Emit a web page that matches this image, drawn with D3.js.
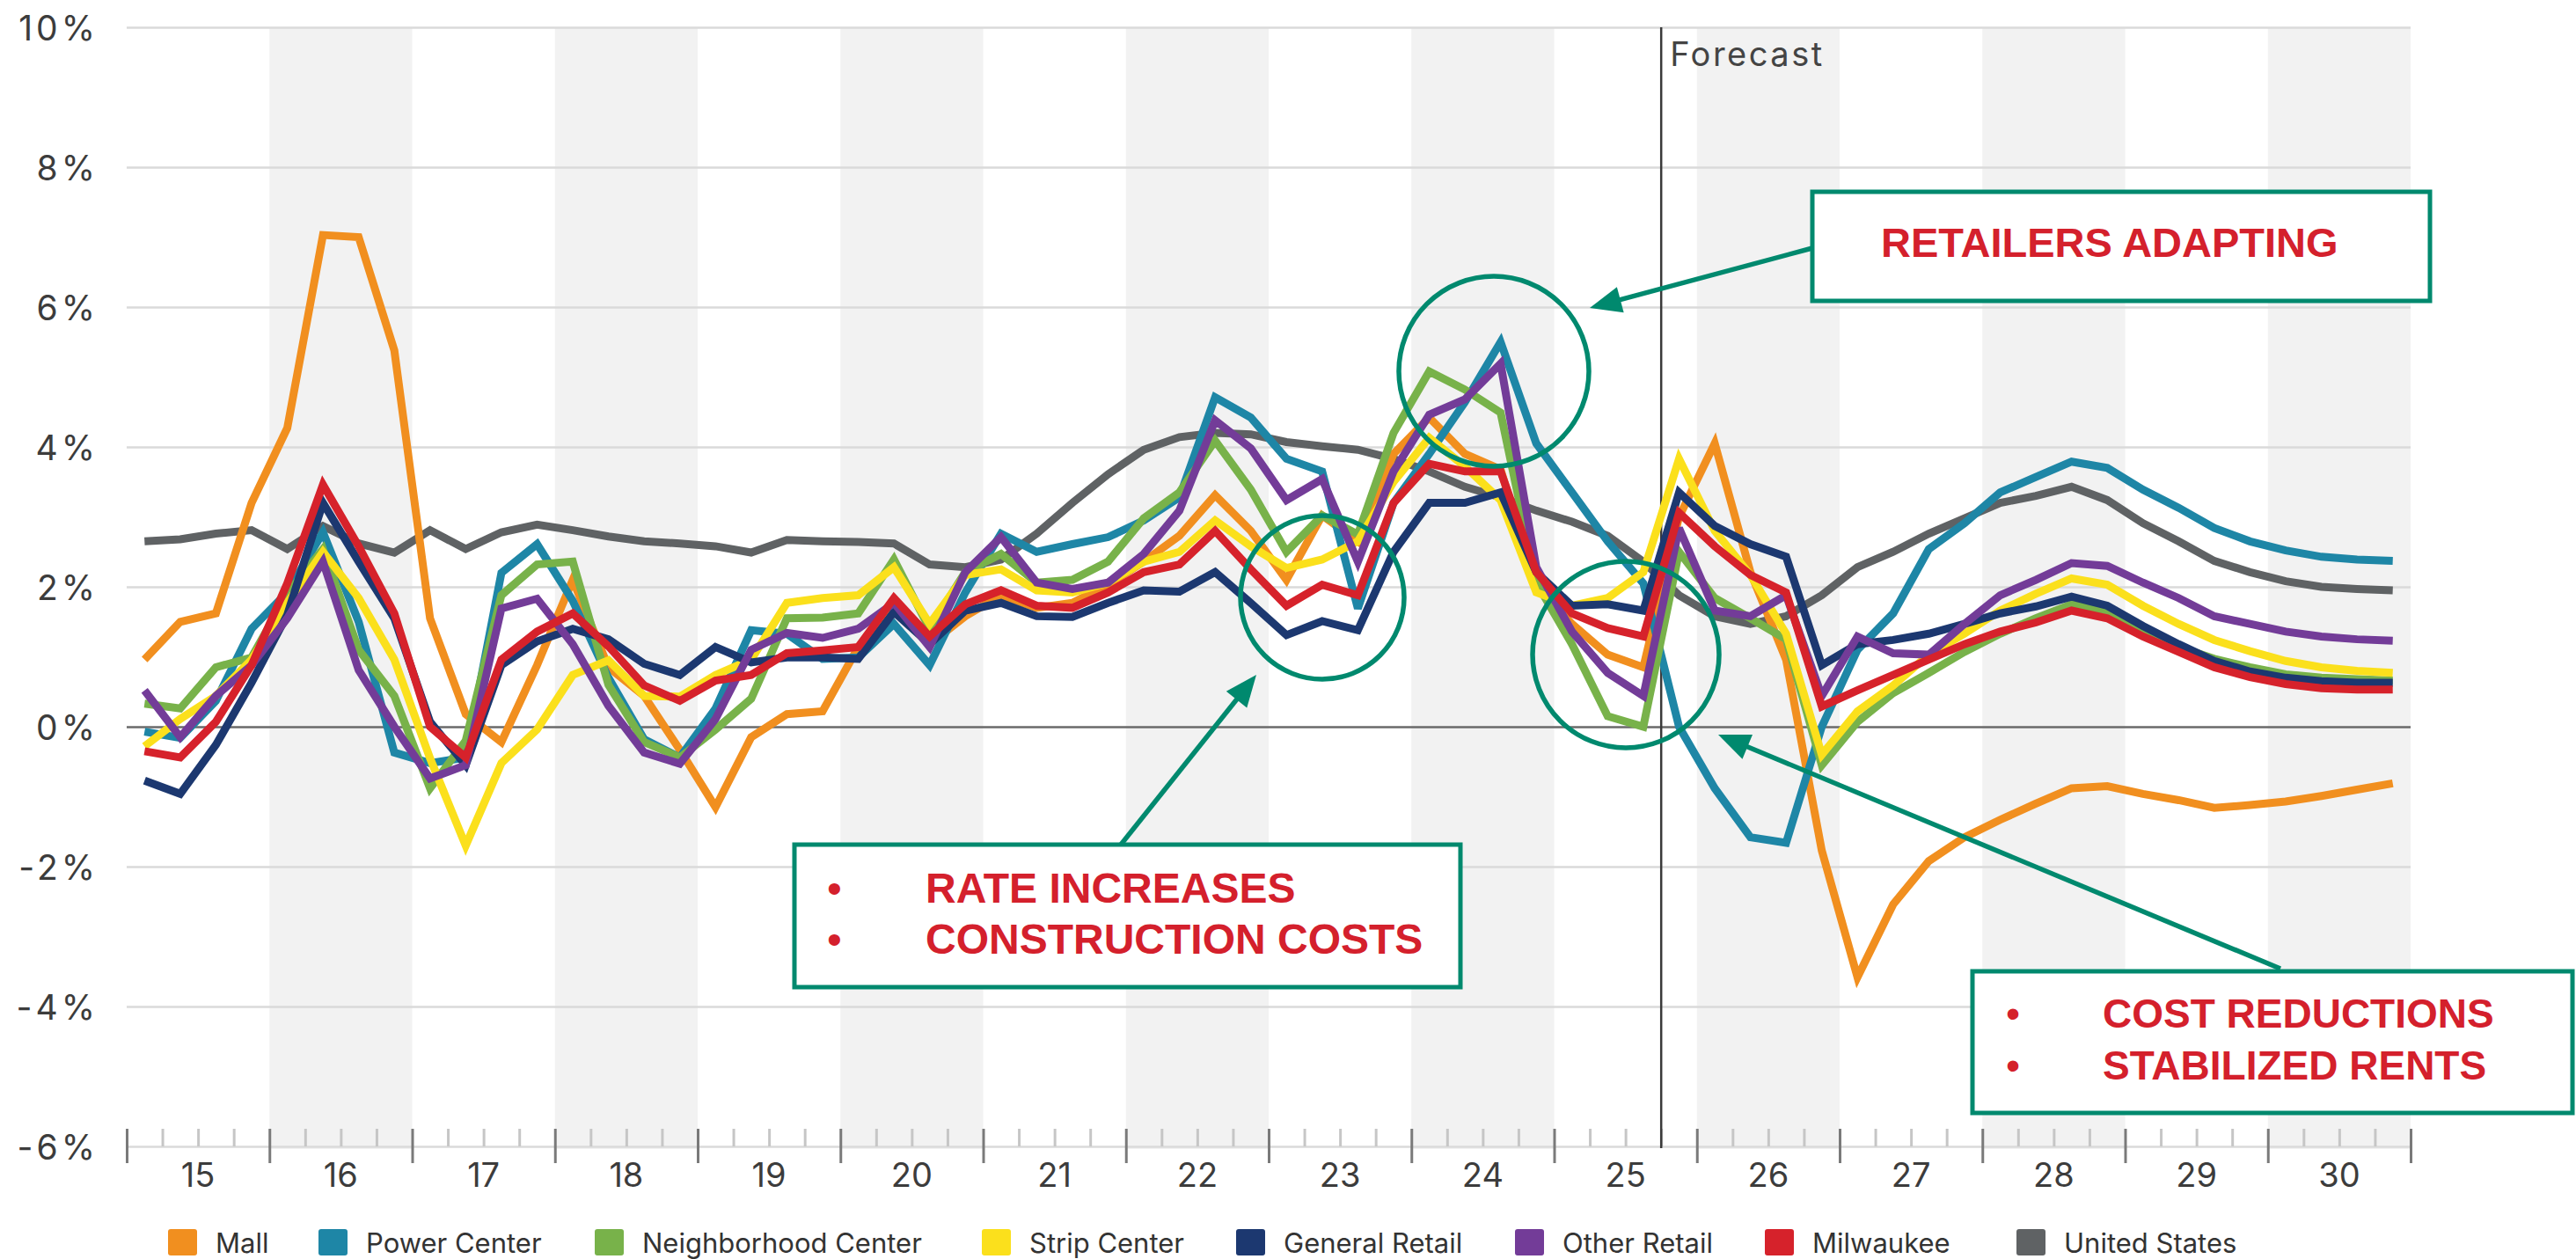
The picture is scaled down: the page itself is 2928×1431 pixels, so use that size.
<!DOCTYPE html>
<html>
<head>
<meta charset="utf-8">
<script src="https://cdn.jsdelivr.net/npm/d3@7"></script>
<style>
  html, body { margin: 0; padding: 0; background: #ffffff; }
  svg { display: block; }
</style>
</head>
<body>
<svg id="chart" width="2928" height="1431"></svg>
<script>
// ---- data -------------------------------------------------------------
const years = [15, 16, 17, 18, 19, 20, 21, 22, 23, 24, 25, 26, 27, 28, 29, 30];
const yTicks = [-6, -4, -2, 0, 2, 4, 6, 8, 10];

const seriesNames = ["Mall", "Power Center", "Neighborhood Center", "Strip Center",
                     "General Retail", "Other Retail", "Milwaukee", "United States"];
const seriesColors = ["#f18f1f", "#1e86a6", "#78b24a", "#fbe01c",
                      "#1c3870", "#733c98", "#d6222b", "#5f6264"];

// quarterly rent growth, % year over year (2015 Q1 .. 2030 Q4)
const mall = [0.96, 1.50, 1.62, 3.20, 4.27, 7.03, 7.00, 5.38, 1.55, 0.18, -0.22, 0.88,
  2.10, 0.85, 0.44, -0.33, -1.15, -0.15, 0.18, 0.22, 1.14, 1.70, 1.18, 1.58,
  1.88, 1.70, 1.77, 2.03, 2.36, 2.73, 3.31, 2.80, 2.10, 3.02, 2.65, 3.90,
  4.42, 3.90, 3.68, 1.99, 1.47, 1.03, 0.85, 3.00, 4.05, 2.21, 0.96, -1.77,
  -3.58, -2.54, -1.92, -1.58, -1.33, -1.10, -0.88, -0.85, -0.96, -1.05, -1.16, -1.12,
  -1.07, -0.99, -0.90, -0.81];
const powerCenter = [-0.07, -0.16, 0.37, 1.40, 1.92, 2.78, 1.50, -0.37, -0.52, -0.44, 2.20, 2.61,
  1.80, 0.70, -0.18, -0.44, 0.26, 1.38, 1.33, 0.97, 0.99, 1.47, 0.88, 1.92,
  2.76, 2.50, 2.61, 2.71, 2.95, 3.28, 4.71, 4.42, 3.83, 3.65, 1.69, 3.20,
  3.90, 4.64, 5.50, 4.05, 3.35, 2.65, 2.05, 0.00, -0.88, -1.58, -1.66, 0.00,
  1.10, 1.62, 2.54, 2.91, 3.35, 3.57, 3.79, 3.70, 3.39, 3.13, 2.84, 2.65,
  2.52, 2.43, 2.39, 2.37];
const neighborhoodCenter = [0.33, 0.26, 0.85, 0.99, 1.90, 2.54, 1.10, 0.44, -0.88, -0.20, 1.88, 2.32,
  2.36, 0.60, -0.22, -0.44, -0.04, 0.40, 1.55, 1.56, 1.62, 2.39, 1.40, 2.21,
  2.47, 2.06, 2.10, 2.36, 2.98, 3.35, 4.09, 3.39, 2.50, 3.02, 2.75, 4.20,
  5.08, 4.82, 4.49, 2.06, 1.18, 0.15, 0.00, 2.50, 1.84, 1.55, 1.25, -0.55,
  0.07, 0.48, 0.77, 1.07, 1.33, 1.55, 1.75, 1.66, 1.40, 1.14, 0.97, 0.85,
  0.75, 0.70, 0.68, 0.66];
const stripCenter = [-0.28, 0.11, 0.44, 0.96, 1.77, 2.50, 1.84, 0.96, -0.45, -1.70, -0.52, -0.04,
  0.74, 0.95, 0.44, 0.43, 0.74, 0.96, 1.77, 1.84, 1.88, 2.28, 1.47, 2.17,
  2.25, 1.95, 1.92, 2.06, 2.36, 2.50, 2.95, 2.58, 2.27, 2.39, 2.65, 3.50,
  4.13, 3.72, 3.24, 1.92, 1.73, 1.84, 2.21, 3.83, 2.80, 2.17, 1.33, -0.40,
  0.22, 0.59, 1.03, 1.33, 1.66, 1.90, 2.12, 2.03, 1.73, 1.47, 1.24, 1.08,
  0.94, 0.85, 0.80, 0.77];
const generalRetail = [-0.77, -0.96, -0.26, 0.63, 1.60, 3.20, 2.36, 1.55, 0.07, -0.55, 0.88, 1.22,
  1.40, 1.25, 0.90, 0.74, 1.14, 0.92, 0.99, 0.99, 0.97, 1.64, 1.18, 1.66,
  1.77, 1.58, 1.57, 1.77, 1.95, 1.93, 2.21, 1.77, 1.31, 1.51, 1.38, 2.50,
  3.20, 3.20, 3.35, 2.21, 1.73, 1.75, 1.66, 3.35, 2.87, 2.61, 2.43, 0.88,
  1.18, 1.24, 1.33, 1.47, 1.62, 1.72, 1.86, 1.73, 1.44, 1.18, 0.94, 0.79,
  0.70, 0.65, 0.63, 0.63];
const otherRetail = [0.52, -0.15, 0.44, 0.88, 1.55, 2.36, 0.81, 0.00, -0.74, -0.55, 1.69, 1.83,
  1.18, 0.30, -0.37, -0.53, 0.11, 1.10, 1.34, 1.27, 1.40, 1.77, 1.14, 2.21,
  2.71, 2.06, 1.97, 2.06, 2.47, 3.09, 4.38, 3.98, 3.24, 3.54, 2.36, 3.65,
  4.46, 4.68, 5.19, 2.28, 1.36, 0.77, 0.44, 2.84, 1.66, 1.58, 1.88, 0.44,
  1.29, 1.05, 1.03, 1.47, 1.88, 2.10, 2.34, 2.30, 2.06, 1.84, 1.58, 1.47,
  1.36, 1.29, 1.25, 1.23];
const milwaukee = [-0.35, -0.44, 0.07, 0.88, 2.05, 3.46, 2.58, 1.62, 0.00, -0.44, 0.96, 1.36,
  1.62, 1.15, 0.59, 0.37, 0.66, 0.74, 1.05, 1.09, 1.14, 1.84, 1.29, 1.75,
  1.95, 1.73, 1.70, 1.92, 2.21, 2.32, 2.80, 2.25, 1.73, 2.03, 1.88, 3.20,
  3.76, 3.65, 3.65, 2.21, 1.62, 1.41, 1.29, 3.06, 2.58, 2.17, 1.92, 0.29,
  0.52, 0.74, 0.96, 1.18, 1.36, 1.49, 1.66, 1.55, 1.29, 1.07, 0.85, 0.71,
  0.61, 0.55, 0.53, 0.53];
const unitedStates = [2.65, 2.68, 2.76, 2.81, 2.54, 2.87, 2.62, 2.49, 2.81, 2.54, 2.78, 2.89,
  2.81, 2.72, 2.65, 2.62, 2.58, 2.49, 2.67, 2.65, 2.64, 2.62, 2.32, 2.28,
  2.39, 2.76, 3.20, 3.61, 3.96, 4.14, 4.20, 4.18, 4.07, 4.01, 3.96, 3.83,
  3.65, 3.43, 3.28, 3.09, 2.93, 2.73, 2.36, 1.88, 1.58, 1.47, 1.58, 1.88,
  2.28, 2.50, 2.76, 2.98, 3.20, 3.30, 3.43, 3.24, 2.91, 2.65, 2.37, 2.21,
  2.08, 2.00, 1.97, 1.95];

const seriesValues = [mall, powerCenter, neighborhoodCenter, stripCenter,
                      generalRetail, otherRetail, milwaukee, unitedStates];

// first forecast quarter (2025 Q4), as an index into the quarter list
const forecastStart = 43;

const calloutTop = ["RETAILERS ADAPTING"];
const calloutMid = ["RATE INCREASES", "CONSTRUCTION COSTS"];
const calloutRight = ["COST REDUCTIONS", "STABILIZED RENTS"];

// ---- layout -----------------------------------------------------------
const plot = { left: 144, right: 2740, top: 31, bottom: 1303 };
const axisFont = "Inter, 'Open Sans', sans-serif";
const noteFont = "'Liberation Sans', Arial, sans-serif";
const teal = "#00896e";
const noteRed = "#d4202c";

const svg = d3.select("#chart");

const quarterKeys = years.flatMap(yr => [1, 2, 3, 4].map(q => `${yr}Q${q}`));
const xQ = d3.scaleBand().domain(quarterKeys).range([plot.left, plot.right]);
const xYear = d3.scaleBand().domain(years).range([plot.left, plot.right]);
const xT = d3.scaleLinear().domain([0, quarterKeys.length]).range([plot.left, plot.right]);
const y = d3.scaleLinear().domain([-6, 10]).range([plot.bottom, plot.top]);

// alternating year shading
svg.append("g").selectAll("rect")
  .data(years.filter((d, i) => i % 2 === 1))
  .join("rect")
  .attr("x", d => xYear(d))
  .attr("y", plot.top)
  .attr("width", xYear.bandwidth())
  .attr("height", plot.bottom + 3 - plot.top)
  .attr("fill", "#f2f2f2");

// horizontal gridlines
const grid = svg.append("g")
  .attr("transform", `translate(${plot.left},0)`)
  .call(d3.axisLeft(y).tickValues(yTicks).tickSize(-(plot.right - plot.left)).tickFormat(""));
grid.select(".domain").remove();
grid.selectAll(".tick line")
  .attr("stroke", d => d === 0 ? "#6a6a6a" : "#dadada")
  .attr("stroke-width", 2.5);

// y labels
const yAxis = svg.append("g")
  .attr("transform", "translate(112,0)")
  .call(d3.axisLeft(y).tickValues(yTicks).tickSize(0).tickPadding(0).tickFormat(d => d + "%"));
yAxis.select(".domain").remove();
yAxis.selectAll("text")
  .attr("font-family", axisFont)
  .attr("font-size", 39)
  .attr("letter-spacing", 4)
  .attr("fill", "#3c3c3c")
  .attr("dy", "0.36em");

// x ticks: year boundaries and quarter marks
const majorTicks = svg.append("g")
  .attr("transform", "translate(0,1283)")
  .call(d3.axisBottom(xT).tickValues(d3.range(0, quarterKeys.length + 1, 4)).tickSize(39).tickFormat(""));
majorTicks.select(".domain").remove();
majorTicks.selectAll(".tick line").attr("stroke", "#7a7a7a").attr("stroke-width", 3);

const minorTicks = svg.append("g")
  .attr("transform", "translate(0,1283)")
  .call(d3.axisBottom(xT).tickValues(d3.range(0, quarterKeys.length).filter(i => i % 4)).tickSize(20).tickFormat(""));
minorTicks.select(".domain").remove();
minorTicks.selectAll(".tick line").attr("stroke", "#c6c6c6").attr("stroke-width", 3);

// year labels
const xLabels = svg.append("g")
  .attr("transform", "translate(0,1305)")
  .call(d3.axisBottom(xYear).tickSize(0).tickFormat(d => String(d)));
xLabels.select(".domain").remove();
xLabels.selectAll("text")
  .attr("y", 44)
  .attr("dy", 0)
  .attr("font-family", axisFont)
  .attr("font-size", 38)
  .attr("fill", "#3c3c3c");

// forecast divider
svg.append("line")
  .attr("x1", xT(forecastStart)).attr("x2", xT(forecastStart))
  .attr("y1", plot.top).attr("y2", plot.bottom + 2)
  .attr("stroke", "#3a3a3a").attr("stroke-width", 2.5);
svg.append("text")
  .attr("x", xT(forecastStart) + 10).attr("y", 75)
  .attr("font-family", axisFont).attr("font-size", 38)
  .attr("letter-spacing", 2.5)
  .attr("fill", "#444").text("Forecast");

// series lines (United States underneath, Milwaukee on top)
const line = d3.line()
  .x((d, i) => xQ(quarterKeys[i]) + xQ.bandwidth() / 2)
  .y(d => y(d));
const drawOrder = [7, 0, 1, 2, 3, 4, 5, 6];
svg.append("g").selectAll("path")
  .data(drawOrder)
  .join("path")
  .attr("d", k => line(seriesValues[k]))
  .attr("fill", "none")
  .attr("stroke", k => seriesColors[k])
  .attr("stroke-width", 9)
  .attr("stroke-linejoin", "miter")
  .attr("stroke-miterlimit", 3);

// legend
const legendX = [191, 362, 676, 1116, 1405, 1722, 2006, 2292];
const legend = svg.append("g").selectAll("g")
  .data(seriesNames)
  .join("g")
  .attr("transform", (d, i) => `translate(${legendX[i]},1397)`);
legend.append("rect")
  .attr("width", 33).attr("height", 30).attr("rx", 3)
  .attr("fill", (d, i) => seriesColors[i]);
legend.append("text")
  .attr("x", 54).attr("y", 27)
  .attr("font-family", axisFont).attr("font-size", 31)
  .attr("fill", "#333").text(d => d);

// ---- callouts ---------------------------------------------------------
const notes = svg.append("g");

function arrow(x1, y1, x2, y2) {
  const a = Math.atan2(y2 - y1, x2 - x1);
  const len = 36, half = 15;
  const bx = x2 - len * Math.cos(a), by = y2 - len * Math.sin(a);
  notes.append("line")
    .attr("x1", x1).attr("y1", y1)
    .attr("x2", x2 - (len - 4) * Math.cos(a)).attr("y2", y2 - (len - 4) * Math.sin(a))
    .attr("stroke", teal).attr("stroke-width", 5.5);
  notes.append("path")
    .attr("d", `M${x2},${y2}L${bx + half * Math.sin(a)},${by - half * Math.cos(a)}L${bx - half * Math.sin(a)},${by + half * Math.cos(a)}Z`)
    .attr("fill", teal);
}

// circled areas
[[1698, 422, 108], [1503, 679, 93], [1848, 744, 106]].forEach(([cx, cy, r]) => {
  notes.append("circle")
    .attr("cx", cx).attr("cy", cy).attr("r", r)
    .attr("fill", "none").attr("stroke", teal).attr("stroke-width", 5.5);
});

arrow(2060, 282, 1807, 350);
arrow(1274, 960, 1428, 767);
arrow(2592, 1101, 1953, 835);

function box(x, y0, w, h) {
  notes.append("rect")
    .attr("x", x).attr("y", y0).attr("width", w).attr("height", h)
    .attr("fill", "#fff").attr("stroke", teal).attr("stroke-width", 5);
}

function bulletLines(lines, bulletX, textX, baseline, step, size) {
  lines.forEach((t, i) => {
    notes.append("text")
      .attr("x", bulletX).attr("y", baseline + i * step)
      .attr("font-family", noteFont).attr("font-size", size)
      .attr("fill", noteRed).text("\u2022");
    notes.append("text")
      .attr("x", textX).attr("y", baseline + i * step)
      .attr("font-family", noteFont).attr("font-weight", "bold").attr("font-size", size)
      .attr("fill", noteRed).text(t);
  });
}

box(2060, 218, 702, 124);
notes.append("text")
  .attr("x", 2138).attr("y", 292)
  .attr("font-family", noteFont).attr("font-weight", "bold").attr("font-size", 47)
  .attr("fill", noteRed).text(calloutTop[0]);

box(903, 960, 757, 162);
bulletLines(calloutMid, 940, 1052, 1026, 58, 48);

box(2242, 1104, 682, 161);
bulletLines(calloutRight, 2280, 2390, 1168, 59, 46);
</script>
</body>
</html>
